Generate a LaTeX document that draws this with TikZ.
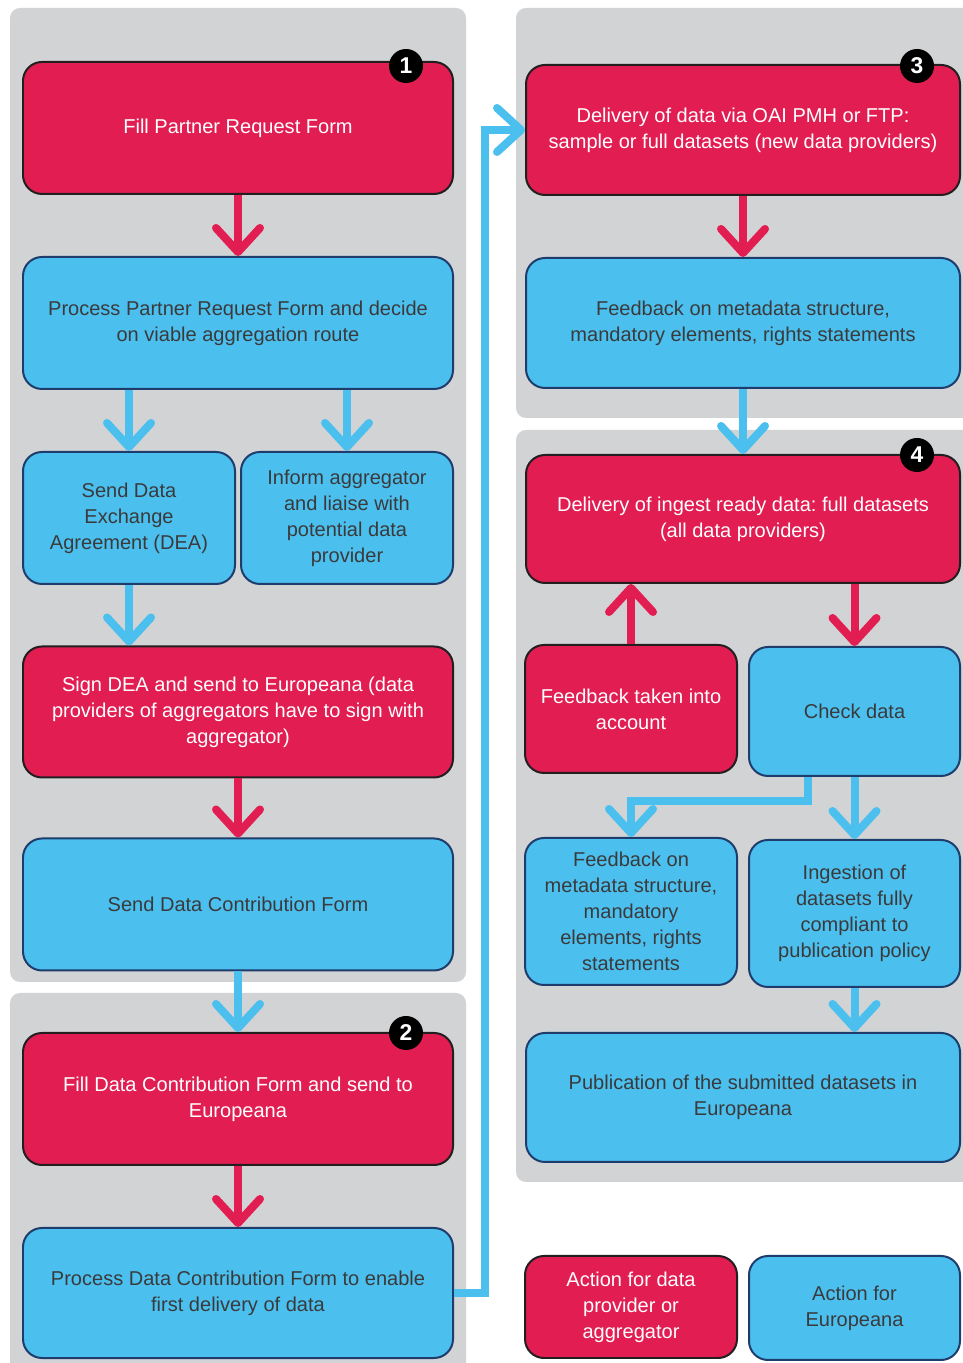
\documentclass[tikz,border=0pt]{standalone}
\usepackage{fontspec}
\setmainfont{Liberation Sans}
\frenchspacing
\usetikzlibrary{arrows.meta,calc,positioning}
\definecolor{eured}{HTML}{E11D52}
\definecolor{euredline}{HTML}{231F20}
\definecolor{eublue}{HTML}{4BC0EE}
\definecolor{eublueline}{HTML}{1E3D6C}
\definecolor{eugray}{HTML}{D1D3D5}
\definecolor{euink}{HTML}{3A3A3C}
\tikzset{
  boxtext/.style={font=\fontsize{11.4}{14.8}\selectfont, align=center},
  redbox/.style={draw=euredline, fill=eured, rounded corners=.38cm,
    line width=.04cm, text=white, boxtext, inner sep=0pt,
    minimum width=8.6cm, minimum height=2.64cm},
  bluebox/.style={draw=eublueline, fill=eublue, rounded corners=.38cm,
    line width=.04cm, text=euink, boxtext, inner sep=0pt,
    minimum width=8.6cm, minimum height=2.64cm},
  halfbox/.style={minimum width=4.24cm},
  widebox/.style={minimum width=8.68cm},
  stepdot/.style={circle, fill=black, text=white, inner sep=0pt,
    minimum size=.68cm, font=\bfseries\fontsize{13}{13}\selectfont},
  panelbg/.style={fill=eugray, rounded corners=.2cm},
  redflow/.style={-{Straight Barb[length=.48cm, width=.88cm, line cap=round, line join=round]},
    draw=eured, line width=.16cm},
  blueflow/.style={-{Straight Barb[length=.48cm, width=.88cm, line cap=round, line join=round]},
    draw=eublue, line width=.16cm}
}
\begin{document}
\begin{tikzpicture}[x=1cm,y=1cm]
  \useasboundingbox (0,0) rectangle (19.24,27.26);
  % four phases on gray panels, legend at the bottom right
  \fill[panelbg] (.20,7.62) rectangle (9.32,27.10);
  \fill[panelbg] (.20,-.40) rectangle (9.32,7.40);
  \fill[panelbg] (10.32,18.90) rectangle (19.60,27.10);
  \fill[panelbg] (10.32,3.62) rectangle (19.60,18.66);

  \node[redbox] (fillprf) at (4.76,24.70) {Fill Partner Request Form};
  \node[bluebox] (procprf) at (4.76,20.80)
    {Process Partner Request Form and decide\\on viable aggregation route};
  \node[bluebox, halfbox] (senddea) at (2.58,16.90)
    {Send Data\\Exchange\\Agreement (DEA)};
  \node[bluebox, halfbox] (informagg) at (6.94,16.90)
    {Inform aggregator\\and liaise with\\potential data\\provider};
  \node[redbox, minimum height=2.62cm] (signdea) at (4.76,13.02)
    {Sign DEA and send to Europeana (data\\providers of aggregators have to sign with\\aggregator)};
  \node[bluebox] (senddcf) at (4.76,9.17) {Send Data Contribution Form};
  \node[redbox] (filldcf) at (4.76,5.28)
    {Fill Data Contribution Form and send to\\Europeana};
  \node[bluebox, minimum height=2.6cm] (procdcf) at (4.76,1.40)
    {Process Data Contribution Form to enable\\first delivery of data};

  \node[redbox, widebox, minimum height=2.6cm] (delivoai) at (14.86,24.66)
    {Delivery of data via OAI PMH or FTP:\\sample or full datasets (new data providers)};
  \node[bluebox, widebox, minimum height=2.6cm] (fbmeta) at (14.86,20.80)
    {Feedback on metadata structure,\\mandatory elements, rights statements};
  \node[redbox, widebox, minimum height=2.56cm] (delivingest) at (14.86,16.88)
    {Delivery of ingest ready data: full datasets\\(all data providers)};
  \node[redbox, halfbox, minimum height=2.56cm] (fbtaken) at (12.62,13.08)
    {Feedback taken into\\account};
  \node[bluebox, halfbox, minimum width=4.22cm, minimum height=2.58cm] (checkdata) at (17.09,13.03)
    {Check data};
  \node[bluebox, halfbox, minimum height=2.94cm] (fbmetadet) at (12.62,9.03)
    {Feedback on\\metadata structure,\\mandatory\\elements, rights\\statements};
  \node[bluebox, halfbox, minimum width=4.22cm, minimum height=2.94cm] (ingestfull) at (17.09,8.99)
    {Ingestion of\\datasets fully\\compliant to\\publication policy};
  \node[bluebox, widebox, minimum height=2.58cm] (publish) at (14.86,5.31)
    {Publication of the submitted datasets in\\Europeana};

  \node[redbox, halfbox, minimum height=2.04cm] (legprov) at (12.62,1.12)
    {Action for data\\provider or\\aggregator};
  \node[bluebox, halfbox, minimum width=4.22cm, minimum height=2.08cm] (legeur) at (17.09,1.10)
    {Action for\\Europeana};

  \node[stepdot] (step1) at (8.12,25.94) {1};
  \node[stepdot] (step2) at (8.12,6.60) {2};
  \node[stepdot] (step3) at (18.34,25.94) {3};
  \node[stepdot] (step4) at (18.34,18.16) {4};

  \draw[redflow] (fillprf.south) -- (procprf.north);
  \draw[blueflow] (procprf.south -| senddea.north) -- (senddea.north);
  \draw[blueflow] (procprf.south -| informagg.north) -- (informagg.north);
  \draw[blueflow] (senddea.south) -- (senddea.south |- signdea.north);
  \draw[redflow] (signdea.south) -- (senddcf.north);
  \draw[blueflow] (senddcf.south) -- (filldcf.north);
  \draw[redflow] (filldcf.south) -- (procdcf.north);
  \draw[blueflow] (procdcf.east) -- ++(.62,0) |- (delivoai.west);

  \draw[redflow] (delivoai.south) -- (fbmeta.north);
  \draw[blueflow] (fbmeta.south) -- (delivingest.north);
  \draw[redflow] (delivingest.south -| checkdata.north) -- (checkdata.north);
  \draw[redflow] (fbtaken.north) -- (fbtaken.north |- delivingest.south);
  \draw[blueflow] (checkdata.south) -- (ingestfull.north);
  \draw[blueflow] ([xshift=-.93cm]checkdata.south) -- ++(0,-.48) -| (fbmetadet.north);
  \draw[blueflow] (ingestfull.south) -- (ingestfull.south |- publish.north);
\end{tikzpicture}
\end{document}
